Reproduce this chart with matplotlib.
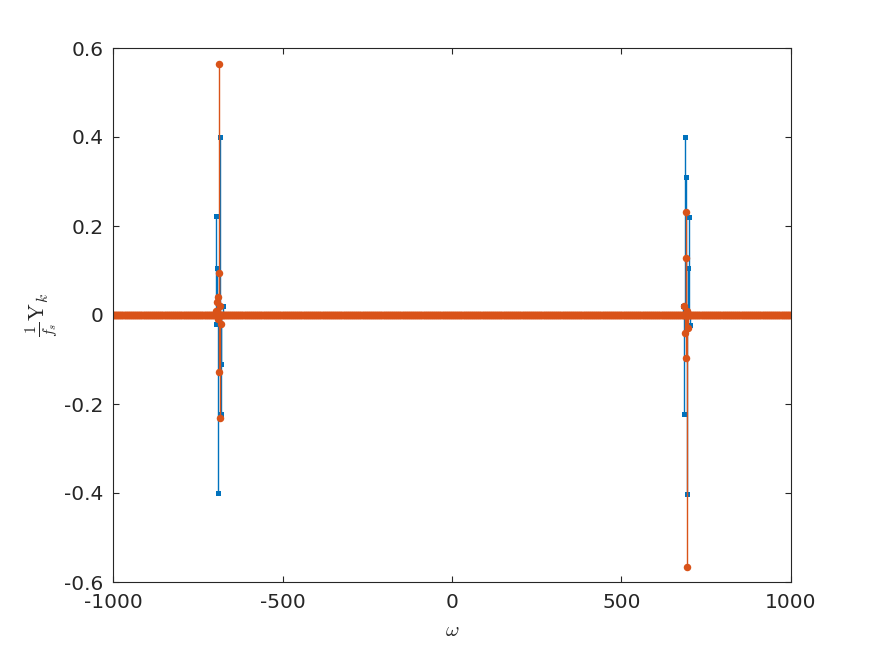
import numpy as np
import matplotlib
matplotlib.use('Agg')
import matplotlib.pyplot as plt
from matplotlib.ticker import FormatStrFormatter

plt.rcParams['axes.unicode_minus'] = False
plt.rcParams['mathtext.fontset'] = 'cm'

# frequency bins of the (mostly zero) spectrum
w_grid = np.arange(-1000, 1000, 2.0)

# non-zero bins around the two peaks (omega, real part, imaginary part)
peak_w = [-697, -696, -692, -690, -689, -688, -687, -686, -685, -684, -682, -680, -675,
          681, 684, 686, 688, 689, 690, 691, 692, 694, 697, 700, 702]
peak_re = [-0.020, 0.222, 0.106, -0.400, 0.000, 0.000, 0.000, 0.000, 0.000, 0.400, -0.222, -0.110, 0.021,
           0.021, -0.223, 0.000, 0.400, 0.000, 0.000, 0.310, 0.000, -0.403, 0.106, 0.221, -0.022]
peak_im = [0.000, 0.010, 0.030, -0.010, 0.040, 0.564, 0.095, -0.129, -0.232, 0.020, -0.020, 0.000, 0.000,
           0.000, 0.020, -0.040, 0.000, 0.232, 0.127, -0.097, -0.566, 0.010, -0.030, 0.000, 0.000]

w = np.concatenate([w_grid, peak_w])
re = np.concatenate([np.zeros_like(w_grid), peak_re])
im = np.concatenate([np.zeros_like(w_grid), peak_im])
order = np.argsort(w, kind='stable')
w, re, im = w[order], re[order], im[order]

blue = '#0072BD'
orange = '#D95319'

fig = plt.figure(figsize=(8.74, 6.55), dpi=100)
ax = fig.add_axes([113/874, 73/655, 678/874, 534/655])

for vals, col, mk, ms in [(re, blue, 's', 3.6), (im, orange, 'o', 5.4)]:
    markerline, stemlines, baseline = ax.stem(w, vals, linefmt='-', markerfmt=mk, basefmt=' ')
    markerline.set_color(col)
    markerline.set_markersize(ms)
    markerline.set_markeredgewidth(0)
    stemlines.set_color(col)
    stemlines.set_linewidth(1.0)

ax.set_xlim(-1000, 1000)
ax.set_ylim(-0.6, 0.6)
ax.set_xticks([-1000, -500, 0, 500, 1000])
ax.set_yticks([-0.6, -0.4, -0.2, 0, 0.2, 0.4, 0.6])
ax.yaxis.set_major_formatter(FormatStrFormatter('%g'))

for s in ax.spines.values():
    s.set_color('#262626')
    s.set_linewidth(0.8)
ax.tick_params(direction='in', length=4, width=0.8, colors='#262626', labelsize=14.5,
               top=True, right=True)
ax.tick_params(axis='x', pad=8)
ax.tick_params(axis='y', pad=7)
for lbl in ax.get_xticklabels() + ax.get_yticklabels():
    lbl.set_color('#262626')

ax.set_xlabel(r'$\omega$', fontsize=15, color='#262626', labelpad=6)
ax.set_ylabel(r'$\frac{1}{f_s}\mathrm{Y}_k$', fontsize=16, color='#262626', labelpad=3)

fig.savefig('out.png', dpi=100)
